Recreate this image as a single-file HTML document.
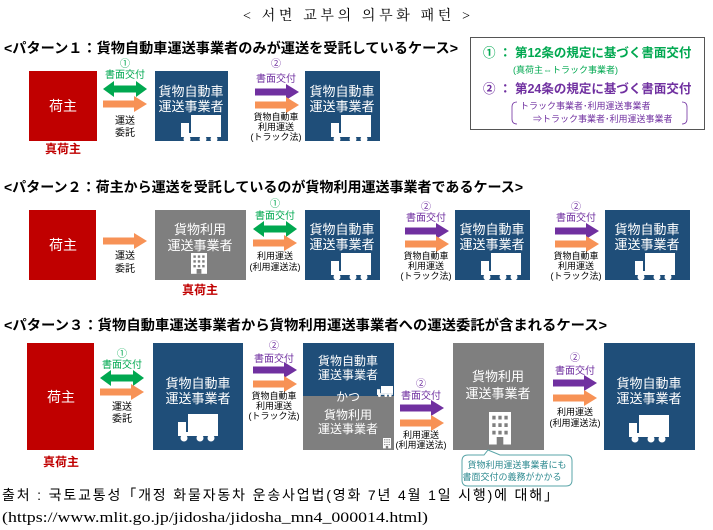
<!DOCTYPE html>
<html><head><meta charset="utf-8"><style>
html,body{margin:0;padding:0;background:#fff}
body{width:713px;height:530px;position:relative;overflow:hidden;font-family:"Liberation Sans","Noto Sans CJK JP",sans-serif}
</style></head><body>
<svg width="713" height="530" viewBox="0 0 713 530" xmlns="http://www.w3.org/2000/svg" style="position:absolute;left:0;top:0" font-family="Liberation Sans, Noto Sans CJK JP, sans-serif">
<defs>
<path id="ra" d="M0,-3.5H31V-8L44,0L31,8V3.5H0Z"/>
<path id="da" d="M0,0L11,-8V-3.5H33V-8L44,0L33,8V3.5H11V8Z"/>
<g id="truck" fill="#fff"><rect x="10" y="0" width="30" height="18"/><path d="M0,8H8V22H0Z"/><rect x="0" y="18" width="40" height="4"/><circle cx="6" cy="24" r="3.5"/><circle cx="22" cy="24" r="3.5"/><circle cx="33" cy="24" r="3.5"/></g>
<g id="bldg" fill="#fff"><rect x="0" y="0" width="20" height="26"/><g fill="#7f7f7f"><rect x="3" y="3" width="3" height="3"/><rect x="8.5" y="3" width="3" height="3"/><rect x="14" y="3" width="3" height="3"/><rect x="3" y="9" width="3" height="3"/><rect x="8.5" y="9" width="3" height="3"/><rect x="14" y="9" width="3" height="3"/><rect x="3" y="15" width="3" height="3"/><rect x="8.5" y="15" width="3" height="3"/><rect x="14" y="15" width="3" height="3"/><rect x="7" y="20" width="6" height="6"/></g></g>
</defs>

<text x="243" y="20" font-size="14" textLength="227" lengthAdjust="spacing" font-family="Liberation Serif, Noto Serif CJK SC, serif">&lt; 서면 교부의 의무화 패턴 &gt;</text>

<!-- Pattern 1 -->
<text x="4" y="53" font-size="14" font-weight="bold" textLength="454" lengthAdjust="spacingAndGlyphs">&lt;パターン１：貨物自動車運送事業者のみが運送を受託しているケース&gt;</text>
<rect x="29" y="71" width="68" height="70" fill="#c00000"/>
<text x="63" y="111" font-size="14" fill="#fff" text-anchor="middle">荷主</text>
<text x="63" y="153" font-size="12" fill="#c00000" font-weight="bold" text-anchor="middle">真荷主</text>
<text x="125" y="67" font-size="10" fill="#00a850" text-anchor="middle">①</text>
<text x="125" y="78" font-size="10" fill="#00a850" text-anchor="middle">書面交付</text>
<use href="#da" x="103" y="89" fill="#00a850"/>
<use href="#ra" x="103" y="104" fill="#f79256"/>
<text x="125" y="124" font-size="10" text-anchor="middle">運送</text>
<text x="125" y="136" font-size="10" text-anchor="middle">委託</text>
<rect x="155" y="71" width="73" height="70" fill="#1f4e79"/>
<text x="191" y="96" font-size="13" fill="#fff" text-anchor="middle">貨物自動車</text>
<text x="191" y="111" font-size="13" fill="#fff" text-anchor="middle">運送事業者</text>
<use href="#truck" x="181" y="115"/>
<text x="276" y="67" font-size="10" fill="#7030a0" text-anchor="middle">②</text>
<text x="276" y="82" font-size="10" fill="#7030a0" text-anchor="middle">書面交付</text>
<use href="#ra" x="255" y="92" fill="#7030a0"/>
<use href="#ra" x="255" y="105" fill="#f79256"/>
<text x="276" y="120" font-size="9" text-anchor="middle">貨物自動車</text>
<text x="276" y="130" font-size="9" text-anchor="middle">利用運送</text>
<text x="276" y="140" font-size="9" text-anchor="middle">(トラック法)</text>
<rect x="305" y="71" width="75" height="70" fill="#1f4e79"/>
<text x="342" y="96" font-size="13" fill="#fff" text-anchor="middle">貨物自動車</text>
<text x="342" y="111" font-size="13" fill="#fff" text-anchor="middle">運送事業者</text>
<use href="#truck" x="331" y="115"/>

<!-- Legend -->
<rect x="470.5" y="37.5" width="234" height="92" fill="#fff" stroke="#555"/>
<text x="483" y="57" font-size="12.5" fill="#00a850" font-weight="bold">①  ：  第12条の規定に基づく書面交付</text>
<text x="513" y="73" font-size="9" fill="#00a850">(真荷主⇔トラック事業者)</text>
<text x="483" y="93" font-size="12.5" fill="#7030a0" font-weight="bold">②  ：  第24条の規定に基づく書面交付</text>
<text x="520" y="109" font-size="9" fill="#7030a0">トラック事業者･利用運送事業者</text>
<text x="533" y="122" font-size="9" fill="#7030a0">⇒トラック事業者･利用運送事業者</text>
<path d="M517,102 Q512,102 512,107 V119 Q512,124 517,124" fill="none" stroke="#7030a0" stroke-width="0.8"/>
<path d="M682,102 Q687,102 687,107 V119 Q687,124 682,124" fill="none" stroke="#7030a0" stroke-width="0.8"/>

<!-- Pattern 2 -->
<text x="4" y="192" font-size="14" font-weight="bold" textLength="519" lengthAdjust="spacingAndGlyphs">&lt;パターン２：荷主から運送を受託しているのが貨物利用運送事業者であるケース&gt;</text>
<rect x="29" y="210" width="67" height="70" fill="#c00000"/>
<text x="63" y="250" font-size="14" fill="#fff" text-anchor="middle">荷主</text>
<use href="#ra" x="103" y="241" fill="#f79256"/>
<text x="125" y="259" font-size="10" text-anchor="middle">運送</text>
<text x="125" y="272" font-size="10" text-anchor="middle">委託</text>
<rect x="155" y="210" width="91" height="70" fill="#7f7f7f"/>
<text x="200" y="234" font-size="13" fill="#fff" text-anchor="middle">貨物利用</text>
<text x="200" y="250" font-size="13" fill="#fff" text-anchor="middle">運送事業者</text>
<use href="#bldg" x="191" y="253" transform="translate(191,253) scale(0.8) translate(-191,-253)"/>
<text x="200" y="294" font-size="12" fill="#c00000" font-weight="bold" text-anchor="middle">真荷主</text>
<text x="275" y="207" font-size="10" fill="#00a850" text-anchor="middle">①</text>
<text x="275" y="219" font-size="10" fill="#00a850" text-anchor="middle">書面交付</text>
<use href="#da" x="253" y="229" fill="#00a850"/>
<use href="#ra" x="253" y="243" fill="#f79256"/>
<text x="275" y="259" font-size="9" text-anchor="middle">利用運送</text>
<text x="275" y="270" font-size="9" text-anchor="middle">(利用運送法)</text>
<rect x="305" y="210" width="75" height="70" fill="#1f4e79"/>
<text x="342" y="234" font-size="13" fill="#fff" text-anchor="middle">貨物自動車</text>
<text x="342" y="249" font-size="13" fill="#fff" text-anchor="middle">運送事業者</text>
<use href="#truck" x="331" y="253"/>
<text x="426" y="210" font-size="10" fill="#7030a0" text-anchor="middle">②</text>
<text x="426" y="221" font-size="10" fill="#7030a0" text-anchor="middle">書面交付</text>
<use href="#ra" x="405" y="231" fill="#7030a0"/>
<use href="#ra" x="405" y="244" fill="#f79256"/>
<text x="426" y="259" font-size="9" text-anchor="middle">貨物自動車</text>
<text x="426" y="269" font-size="9" text-anchor="middle">利用運送</text>
<text x="426" y="279" font-size="9" text-anchor="middle">(トラック法)</text>
<rect x="455" y="210" width="75" height="70" fill="#1f4e79"/>
<text x="492" y="234" font-size="13" fill="#fff" text-anchor="middle">貨物自動車</text>
<text x="492" y="249" font-size="13" fill="#fff" text-anchor="middle">運送事業者</text>
<use href="#truck" x="481" y="253"/>
<text x="576" y="210" font-size="10" fill="#7030a0" text-anchor="middle">②</text>
<text x="576" y="221" font-size="10" fill="#7030a0" text-anchor="middle">書面交付</text>
<use href="#ra" x="555" y="231" fill="#7030a0"/>
<use href="#ra" x="555" y="244" fill="#f79256"/>
<text x="576" y="259" font-size="9" text-anchor="middle">貨物自動車</text>
<text x="576" y="269" font-size="9" text-anchor="middle">利用運送</text>
<text x="576" y="279" font-size="9" text-anchor="middle">(トラック法)</text>
<rect x="605" y="210" width="85" height="70" fill="#1f4e79"/>
<text x="647" y="234" font-size="13" fill="#fff" text-anchor="middle">貨物自動車</text>
<text x="647" y="249" font-size="13" fill="#fff" text-anchor="middle">運送事業者</text>
<use href="#truck" x="635" y="253"/>

<!-- Pattern 3 -->
<text x="4" y="330" font-size="14" font-weight="bold" textLength="603" lengthAdjust="spacingAndGlyphs">&lt;パターン３：貨物自動車運送事業者から貨物利用運送事業者への運送委託が含まれるケース&gt;</text>
<rect x="27" y="343" width="67" height="107" fill="#c00000"/>
<text x="61" y="402" font-size="14" fill="#fff" text-anchor="middle">荷主</text>
<text x="61" y="466" font-size="12" fill="#c00000" font-weight="bold" text-anchor="middle">真荷主</text>
<text x="122" y="357" font-size="10" fill="#00a850" text-anchor="middle">①</text>
<text x="122" y="368" font-size="10" fill="#00a850" text-anchor="middle">書面交付</text>
<use href="#da" x="100" y="378" fill="#00a850"/>
<use href="#ra" x="100" y="392" fill="#f79256"/>
<text x="122" y="410" font-size="10" text-anchor="middle">運送</text>
<text x="122" y="422" font-size="10" text-anchor="middle">委託</text>
<rect x="153" y="343" width="90" height="107" fill="#1f4e79"/>
<text x="198" y="388" font-size="13" fill="#fff" text-anchor="middle">貨物自動車</text>
<text x="198" y="403" font-size="13" fill="#fff" text-anchor="middle">運送事業者</text>
<use href="#truck" x="178" y="414"/>
<text x="274" y="349" font-size="10" fill="#7030a0" text-anchor="middle">②</text>
<text x="274" y="362" font-size="10" fill="#7030a0" text-anchor="middle">書面交付</text>
<use href="#ra" x="253" y="370" fill="#7030a0"/>
<use href="#ra" x="253" y="384" fill="#f79256"/>
<text x="274" y="399" font-size="9" text-anchor="middle">貨物自動車</text>
<text x="274" y="409" font-size="9" text-anchor="middle">利用運送</text>
<text x="274" y="419" font-size="9" text-anchor="middle">(トラック法)</text>
<rect x="303" y="343" width="91" height="53" fill="#1f4e79"/>
<rect x="303" y="396" width="91" height="54" fill="#7f7f7f"/>
<text x="348" y="365" font-size="12" fill="#fff" text-anchor="middle">貨物自動車</text>
<text x="348" y="379" font-size="12" fill="#fff" text-anchor="middle">運送事業者</text>
<g transform="translate(377,386) scale(0.4)"><use href="#truck"/></g>
<text x="348" y="401" font-size="12" fill="#fff" text-anchor="middle">かつ</text>
<text x="348" y="419" font-size="12" fill="#fff" text-anchor="middle">貨物利用</text>
<text x="348" y="433" font-size="12" fill="#fff" text-anchor="middle">運送事業者</text>
<g transform="translate(383,438) scale(0.4)"><use href="#bldg"/></g>
<text x="421" y="387" font-size="10" fill="#7030a0" text-anchor="middle">②</text>
<text x="421" y="399" font-size="10" fill="#7030a0" text-anchor="middle">書面交付</text>
<use href="#ra" x="400" y="408" fill="#7030a0"/>
<use href="#ra" x="400" y="423" fill="#f79256"/>
<text x="421" y="438" font-size="9" text-anchor="middle">利用運送</text>
<text x="421" y="448" font-size="9" text-anchor="middle">(利用運送法)</text>
<rect x="453" y="343" width="91" height="107" fill="#7f7f7f"/>
<text x="498" y="381" font-size="13" fill="#fff" text-anchor="middle">貨物利用</text>
<text x="498" y="398" font-size="13" fill="#fff" text-anchor="middle">運送事業者</text>
<use href="#bldg" x="489" y="412" transform="translate(489,412) scale(1.1,1.25) translate(-489,-412)"/>
<text x="575" y="361" font-size="10" fill="#7030a0" text-anchor="middle">②</text>
<text x="575" y="374" font-size="10" fill="#7030a0" text-anchor="middle">書面交付</text>
<use href="#ra" x="553" y="383" fill="#7030a0"/>
<use href="#ra" x="553" y="398" fill="#f79256"/>
<text x="575" y="415" font-size="9" text-anchor="middle">利用運送</text>
<text x="575" y="426" font-size="9" text-anchor="middle">(利用運送法)</text>
<rect x="604" y="343" width="91" height="107" fill="#1f4e79"/>
<text x="649" y="388" font-size="13" fill="#fff" text-anchor="middle">貨物自動車</text>
<text x="649" y="403" font-size="13" fill="#fff" text-anchor="middle">運送事業者</text>
<use href="#truck" x="629" y="415"/>
<path d="M468,455 Q462,455 462,461 V480 Q462,486 468,486 H566 Q572,486 572,480 V461 Q572,455 566,455 H500 L488,450 L484,455 Z" fill="#fff" stroke="#5aa5a8" stroke-width="1"/>
<text x="517" y="468" font-size="9" fill="#2e8a90" text-anchor="middle">貨物利用運送事業者にも</text>
<text x="512" y="480" font-size="9" fill="#2e8a90" text-anchor="middle">書面交付の義務がかかる</text>

<text x="2" y="500" font-size="14" textLength="556" lengthAdjust="spacing" font-family="Liberation Sans, Noto Sans CJK KR, sans-serif">출처 : 국토교통성「개정 화물자동차 운송사업법(영화 7년 4월 1일 시행)에 대해」</text>
<text x="2" y="522" font-size="15" textLength="426" lengthAdjust="spacingAndGlyphs" font-family="Liberation Serif, serif">(https://www.mlit.go.jp/jidosha/jidosha_mn4_000014.html)</text>
</svg>
</body></html>
